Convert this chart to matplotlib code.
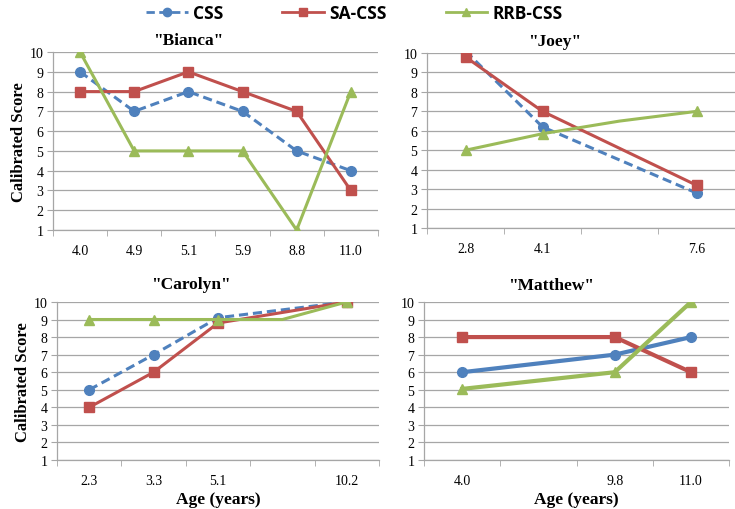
import matplotlib.pyplot as plt
import numpy as np
from matplotlib.lines import Line2D

plt.rcParams['font.family'] = ['Liberation Serif', 'DejaVu Serif']

BLUE = "#4F81BD"
RED = "#C0504D"
GREEN = "#9BBB59"
GRID = "#A6A6A6"

# ages (blank labels are empty category slots in the original sheet)
bianca_ages = ["4.0", "4.9", "5.1", "5.9", "8.8", "11.0"]
bianca_css = [9, 7, 8, 7, 5, 4]
bianca_sa = [8, 8, 9, 8, 7, 3]
bianca_rrb = [10, 5, 5, 5, 1, 8]

joey_ages = ["2.8", "4.1", "", "7.6"]
joey_css = [10.1, 6.2, np.nan, 2.8]
joey_sa = [9.8, 7.0, np.nan, 3.2]
joey_rrb = [5.0, 5.85, 6.5, 7.0]
joey_rrb_marked = [True, True, False, True]

carolyn_ages = ["2.3", "3.3", "5.1", "", "10.2"]
carolyn_css = [5, 7, 9.1, np.nan, 10]
carolyn_sa = [4, 6, 8.8, np.nan, 10]
carolyn_rrb = [9, 9, 9, 9, 10]
carolyn_rrb_marked = [True, True, True, False, True]

matthew_ages = ["4.0", "", "9.8", "11.0"]
matthew_css = [6, np.nan, 7, 8]
matthew_sa = [8, np.nan, 8, 6]
matthew_rrb = [5.05, np.nan, 6, 10]


def draw_series(ax, vals, color, marker, ls, lw, marked=None):
    vals = np.array(vals, dtype=float)
    idx = np.where(~np.isnan(vals))[0]
    x = idx
    y = vals[idx]
    if marked is None:
        me = None
    else:
        me = [i for i, k in enumerate(idx) if marked[k]]
    ax.plot(x, y, color=color, lw=lw, ls=ls, marker=marker, markersize=7,
            markevery=me, markeredgecolor=color, markerfacecolor=color,
            dashes=(3, 1.6) if ls == "--" else (None, None), zorder=3)


def setup(ax, ages, title, ylabel=False, xlabel=False, tpad=5):
    n = len(ages)
    ax.set_xlim(-0.5, n - 0.5)
    ax.set_ylim(1, 10)
    ax.set_yticks(range(1, 11))
    ax.set_xticks(range(n))
    ax.set_xticklabels(ages)
    ax.set_xticks(np.arange(-0.5, n, 1.0), minor=True)
    ax.tick_params(axis="x", which="major", length=0, pad=10, labelsize=10)
    ax.tick_params(axis="x", which="minor", length=4, color=GRID)
    ax.tick_params(axis="y", length=4, color=GRID, labelsize=10, pad=3)
    ax.grid(axis="y", color=GRID, lw=0.9)
    ax.set_axisbelow(True)
    for s in ["top", "right"]:
        ax.spines[s].set_visible(False)
    for s in ["left", "bottom"]:
        ax.spines[s].set_color(GRID)
        ax.spines[s].set_linewidth(0.9)
    ax.set_title(title, fontsize=12.5, fontweight="bold", pad=tpad, x=0.415)
    if ylabel:
        ax.set_ylabel("Calibrated Score", fontsize=12, fontweight="bold", labelpad=2)
    if xlabel:
        ax.set_xlabel("Age (years)", fontsize=12.5, fontweight="bold", labelpad=3)


fig = plt.figure(figsize=(7.35, 5.10), dpi=100)

ax1 = fig.add_axes([0.0721, 0.547, 0.442, 0.349])
ax2 = fig.add_axes([0.581, 0.551, 0.419, 0.343])
ax3 = fig.add_axes([0.0776, 0.096, 0.438, 0.310])
ax4 = fig.add_axes([0.577, 0.096, 0.415, 0.310])

lw = 2.2
draw_series(ax1, bianca_css, BLUE, "o", "--", lw)
draw_series(ax1, bianca_sa, RED, "s", "-", lw)
draw_series(ax1, bianca_rrb, GREEN, "^", "-", lw)
setup(ax1, bianca_ages, '"Bianca"', ylabel=True, tpad=6)

draw_series(ax2, joey_css, BLUE, "o", "--", lw)
draw_series(ax2, joey_sa, RED, "s", "-", lw)
draw_series(ax2, joey_rrb, GREEN, "^", "-", lw, joey_rrb_marked)
setup(ax2, joey_ages, '"Joey"', tpad=6)

draw_series(ax3, carolyn_css, BLUE, "o", "--", lw)
draw_series(ax3, carolyn_sa, RED, "s", "-", lw)
draw_series(ax3, carolyn_rrb, GREEN, "^", "-", lw, carolyn_rrb_marked)
setup(ax3, carolyn_ages, '"Carolyn"', ylabel=True, xlabel=True, tpad=10)

draw_series(ax4, matthew_css, BLUE, "o", "-", 3.0)
draw_series(ax4, matthew_sa, RED, "s", "-", 3.0)
draw_series(ax4, matthew_rrb, GREEN, "^", "-", 3.0)
setup(ax4, matthew_ages, '"Matthew"', xlabel=True, tpad=9)

handles = [
    Line2D([], [], color=BLUE, lw=2, ls="--", marker="o", markersize=6, dashes=(3, 1.6)),
    Line2D([], [], color=RED, lw=2, marker="s", markersize=6),
    Line2D([], [], color=GREEN, lw=2, marker="^", markersize=6),
]
fig.legend(handles, ["CSS", "SA-CSS", "RRB-CSS"], loc="center", ncol=3,
           bbox_to_anchor=(0.482, 0.973), frameon=False, handlelength=2.4,
           columnspacing=3.4, handletextpad=0.3,
           prop={"family": ["Open Sans", "DejaVu Sans"], "weight": "bold", "size": 12.5})

fig.savefig("out.png", dpi=100)
